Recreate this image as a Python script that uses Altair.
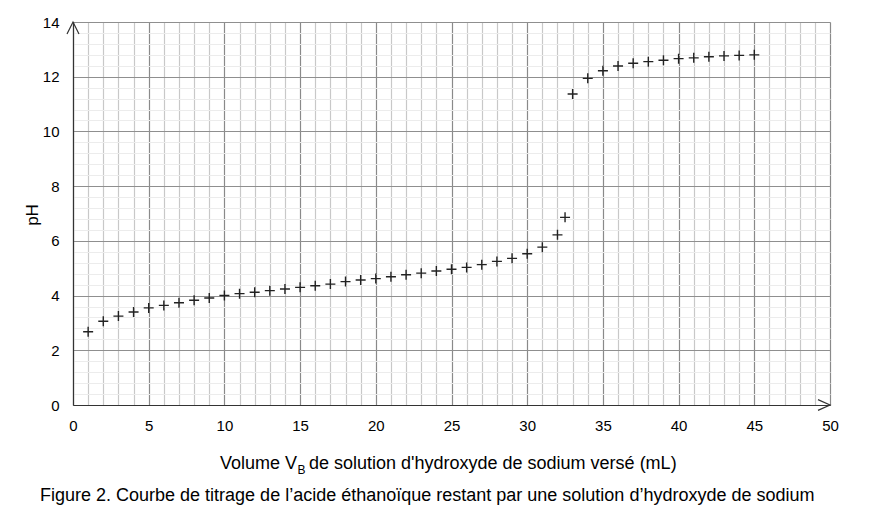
import pandas as pd
import altair as alt

# Volume versé (mL) et pH
volume = [1, 2, 3, 4, 5, 6, 7, 8, 9, 10, 11, 12, 13, 14, 15, 16, 17, 18, 19, 20,
          21, 22, 23, 24, 25, 26, 27, 28, 29, 30, 31, 32, 32.5, 33, 34, 35, 36,
          37, 38, 39, 40, 41, 42, 43, 44, 45]
ph = [2.68, 3.06, 3.25, 3.40, 3.55, 3.64, 3.74, 3.83, 3.91, 4.00, 4.07, 4.12,
      4.18, 4.24, 4.30, 4.36, 4.42, 4.51, 4.57, 4.62, 4.69, 4.76, 4.82, 4.90,
      4.96, 5.03, 5.13, 5.25, 5.36, 5.53, 5.77, 6.22, 6.86, 11.37, 11.94,
      12.22, 12.39, 12.49, 12.55, 12.60, 12.66, 12.69, 12.73, 12.76, 12.78, 12.80]

x_max = 50
y_max = 14
x_grid = list(range(0, x_max + 1))
y_grid = [round(0.4 * i, 1) for i in range(36)]

FONT = "Liberation Sans"
source = pd.DataFrame({"V": volume, "pH": ph})

x_scale = alt.Scale(domain=[0, x_max], nice=False, zero=True)
y_scale = alt.Scale(domain=[0, y_max], nice=False, zero=True)

x_axis = alt.Axis(
    values=x_grid, tickCount=200, format="d", title=None, ticks=False,
    labelPadding=13, labelOverlap=False, labelFlush=False,
    labelExpr="datum.value % 5 === 0 ? datum.label : ''",
    labelFontSize=15, labelFont=FONT, labelColor="#000",
    domainColor="#333", domainWidth=1.2,
    gridColor={"condition": {"test": "datum.value % 5 === 0", "value": "#8a8a8a"},
               "value": "#c8c8c8"},
    gridWidth=1.2, gridOpacity=1,
)
y_axis = alt.Axis(
    values=y_grid, tickCount=200, format=".0f", title=None, ticks=False,
    labelPadding=14, labelOverlap=False, labelFlush=False,
    labelExpr="abs(datum.value / 2 - round(datum.value / 2)) < 0.01 ? datum.label : ''",
    labelFontSize=15, labelFont=FONT, labelColor="#000",
    domainColor="#333", domainWidth=1.2,
    gridColor={"condition": {"test": "abs(datum.value / 2 - round(datum.value / 2)) < 0.01",
                             "value": "#8f8f8f"},
               "value": "#ececec"},
    gridWidth=1.2, gridOpacity=1,
)

points = alt.Chart(source).mark_point(
    shape="M-1,0L1,0M0,-1L0,1", size=100, filled=False,
    stroke="#222", strokeWidth=1.4, opacity=1,
).encode(
    x=alt.X("V:Q", scale=x_scale, axis=x_axis),
    y=alt.Y("pH:Q", scale=y_scale, axis=y_axis),
)

# flèches au bout des axes
arrow_x = alt.Chart().mark_point(
    shape="M-1,-0.45L0,0L-1,0.45", size=576, filled=False,
    stroke="#333", strokeWidth=1.2, opacity=1,
).encode(x=alt.datum(x_max, scale=x_scale), y=alt.datum(0, scale=y_scale))

arrow_y = alt.Chart().mark_point(
    shape="M-0.5,1L0,0L0.5,1", size=576, filled=False,
    stroke="#333", strokeWidth=1.2, opacity=1,
).encode(x=alt.datum(0, scale=x_scale), y=alt.datum(y_max, scale=y_scale))

# titres
def label(txt, x, y, size=18, align="left", angle=0, baseline="alphabetic"):
    return alt.Chart().mark_text(
        text=txt, font=FONT, fontSize=size, align=align, baseline=baseline,
        angle=angle, color="#000",
    ).encode(x=alt.value(x), y=alt.value(y))

y_title = label("pH", -40, 193, size=17, align="center", angle=270, baseline="middle")
x_title_a = label("Volume V", 224, 447, align="right")
x_title_b = label("B", 224.5, 452, size=12)
x_title_c = label("de solution d'hydroxyde de sodium versé (mL)", 236, 447)
caption = label("Figure 2. Courbe de titrage de l’acide éthanoïque restant par une "
                "solution d’hydroxyde de sodium", -33, 479)

chart = alt.layer(
    points, arrow_x, arrow_y, y_title, x_title_a, x_title_b, x_title_c, caption
).properties(
    width=757, height=383,
    autosize=alt.AutoSizeParams(type="none"),
    padding={"left": 65, "top": 14, "right": 42, "bottom": 102},
).configure_view(stroke=None).configure(background="white")

chart.save("out.html", embed_options={"renderer": "svg", "actions": False})
